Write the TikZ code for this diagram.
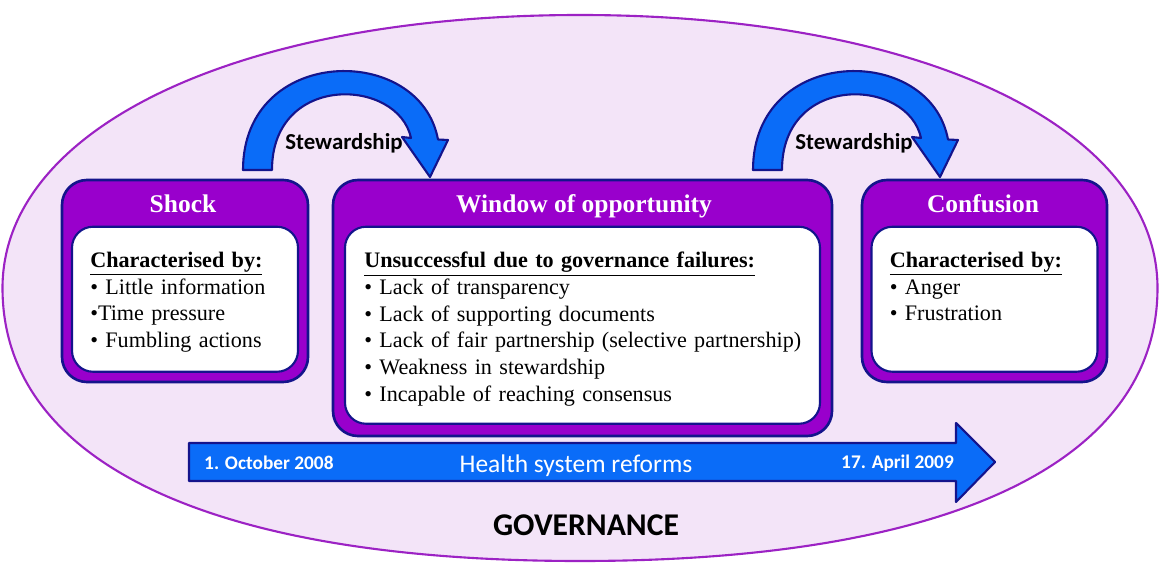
\documentclass[tikz,border=0pt]{standalone}
\usepackage{fontspec}
\setmainfont{Liberation Serif}
\newfontfamily\calibri{Carlito}
\usetikzlibrary{positioning}
\definecolor{lavender}{HTML}{F3E4F8}
\definecolor{rim}{HTML}{9C22C4}
\definecolor{stagepurple}{HTML}{9900CC}
\definecolor{navy}{HTML}{14148C}
\definecolor{flowblue}{HTML}{0A6CF8}

\begin{document}
\begin{tikzpicture}[%
		x=1cm,
		y=-1cm,
		stage/.style={%
			draw=navy,
			line width=1.5pt,
			fill=stagepurple,
			rounded corners=0.5cm,
			minimum height=4.04cm
		},
		panel/.style={%
			draw=navy,
			line width=1.2pt,
			fill=white,
			rounded corners=0.42cm,
			minimum height=2.9cm
		},
		stagetitle/.style={%
			text=white,
			font=\fontsize{14.5}{17}\selectfont\bfseries
		},
		traits/.style={%
			inner sep=0pt,
			align=left,
			font=\fontsize{12.6}{15.2}\selectfont
		},
		bendarrow/.style={%
			draw=navy,
			line width=1.2pt,
			fill=flowblue,
			line join=round
		},
		sanslabel/.style={%
			font=\calibri\fontsize{13}{15}\selectfont\bfseries
		}
		]
		\useasboundingbox (0,0) rectangle (23.18,11.32);
		
		% governance oval
		\draw[rim, line width=1.2pt, fill=lavender] (0.05,5.76) .. controls (0.05,9.25) and (4.21,11.22) .. (11.6,11.22)
		.. controls (18.99,11.22) and (23.15,9.25) .. (23.15,5.76)
		.. controls (23.15,2.54) and (18.41,0.3) .. (11.6,0.3)
		.. controls (4.79,0.3) and (0.05,2.54) .. cycle;
		
		% stewardship arrows
		\foreach \dx/\nm in {0/stewA, 10.2/stewB} {
			\begin{scope}[xshift=\dx cm]
				\draw[bendarrow] (4.86,3.4) .. controls (4.86,0.9) and (8.4,0.85) .. (8.76,2.79) -- (8.96,2.8) -- (8.6,3.54)
				-- (8.04,2.74) -- (8.22,2.76) .. controls (7.96,1.55) and (5.44,1.45) .. (5.44,3.4) -- cycle;
				\node[sanslabel] (\nm) at (6.88,2.86) {Stewardship};
			\end{scope}
		}
		
		\node[stage, minimum width=4.92cm] (shock)                            at (3.7,5.62)   {};
		\node[stage, minimum width=9.98cm, minimum height=5.12cm] (window)    at (11.65,6.16) {};
		\node[stage, minimum width=4.9cm] (confusion)                         at (19.69,5.62) {};
		
		\node[panel, minimum width=4.52cm] (shockin) [below=0.94cm of shock.north]                         {};
		\node[panel, minimum width=9.5cm, minimum height=3.94cm] (windowin) [below=0.94cm of window.north] {};
		\node[panel, minimum width=4.52cm] (confusionin) [below=0.94cm of confusion.north]                 {};
		
		\node[stagetitle] (shocktitle)     at (3.66,4.08)  {Shock};
		\node[stagetitle] (windowtitle)    at (11.68,4.12) {Window of opportunity};
		\node[stagetitle] (confusiontitle) at (19.66,4.08) {Confusion};
		
		\node[traits, text width=3.9cm] (shocktext) [below right=0.52cm and 0.38cm of shockin.north west]
		{\underline{\textbf{Characterised by:}}\\ • Little information\\ •Time pressure\\ • Fumbling actions};
		\node[traits, text width=9.2cm] (windowtext) [below right=0.52cm and 0.4cm of windowin.north west]
		{\underline{\textbf{Unsuccessful due to governance failures:}}\\ • Lack of transparency\\ • Lack of supporting documents\\
			• Lack of fair partnership (selective partnership)\\ • Weakness in stewardship\\ • Incapable of reaching consensus};
		\node[traits, text width=3.9cm] (confusiontext) [below right=0.52cm and 0.38cm of confusionin.north west]
		{\underline{\textbf{Characterised by:}}\\ • Anger\\ • Frustration};
		
		% reform timeline
		\draw[bendarrow] (3.78,8.86) -- (19.12,8.86) -- (19.12,8.46) -- (19.9,9.24) -- (19.12,10.04) -- (19.12,9.62) -- (3.78,9.62) -- cycle;
		\node[sanslabel, text=white, font=\calibri\fontsize{11}{13}\selectfont\bfseries, anchor=west] (start) at (3.96,9.26) {1. October 2008};
		\node[sanslabel, text=white, font=\calibri\fontsize{11}{13}\selectfont\bfseries, anchor=east] (end)   at (19.2,9.26)  {17. April 2009};
		\node[text=white, font=\calibri\fontsize{14.5}{17}\selectfont] (reform) at (11.52,9.32) {Health system reforms};
		
		\node[font=\calibri\fontsize{18}{20}\selectfont\bfseries] (governance) at (11.72,10.5) {GOVERNANCE};
		\end{tikzpicture}
\end{document}
